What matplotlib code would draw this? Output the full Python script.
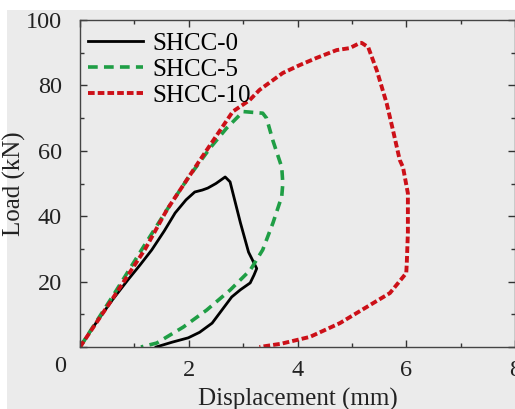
import numpy as np
import matplotlib
matplotlib.use("Agg")
import matplotlib.pyplot as plt
from matplotlib.patches import Rectangle
from matplotlib.ticker import MultipleLocator

plt.rcParams['font.family'] = ['Liberation Serif', 'DejaVu Serif']
plt.rcParams['lines.scale_dashes'] = False

# SHCC-0 (black solid)
x0 = [0, 0.3, 0.6, 0.88, 1.1, 1.32, 1.55, 1.75, 1.95, 2.11, 2.25, 2.35, 2.5, 2.67, 2.76,
      2.95, 3.1, 3.25, 3.2, 3.13, 2.95, 2.79, 2.61, 2.43, 2.2, 1.99, 1.7, 1.4]
y0 = [0, 7.5, 14.5, 20.5, 25, 29.7, 35.5, 41, 45, 47.4, 48, 48.6, 50, 52, 50.5,
      38, 29, 24, 22, 19.6, 17.5, 15.3, 11.3, 7.3, 4.5, 2.8, 1.5, 0]

# SHCC-5 (green dashed)
x5 = [0, 0.6, 1.2, 1.6, 2.0, 2.4, 2.7, 2.94, 3.0, 3.36, 3.43, 3.55, 3.71, 3.73, 3.71,
      3.55, 3.36, 3.13, 2.76, 2.33, 1.9, 1.41, 1.12]
y5 = [0, 15.5, 31.5, 42, 52, 61, 67, 71, 72, 71.5, 70, 63, 55, 50, 46,
      38, 29.7, 23.5, 17.4, 11.3, 6.1, 1.2, 0]

# SHCC-10 (red dashed)
x10 = [0, 0.6, 1.2, 1.6, 2.2, 2.81, 3.12, 3.3, 3.73, 4.04, 4.35, 4.72, 4.96, 5.15, 5.18,
       5.3, 5.46, 5.64, 5.76, 5.88, 5.94, 6.03, 6.03, 6.01, 6.0, 5.7, 5.27, 4.78, 4.23,
       3.7, 3.3]
y10 = [0, 14.8, 30, 42, 57, 72, 75.5, 78.6, 83.8, 86.2, 88.4, 90.8, 91.4, 93, 93,
       91.7, 84.5, 74.5, 66, 57.2, 55, 47, 35, 25.7, 22.6, 16.5, 12.2, 7.3, 3.1,
       1.0, 0]

fig = plt.figure(figsize=(5.15, 4.09), dpi=100, facecolor='white')
# grey backdrop of the scanned figure
fig.patches.append(Rectangle((7 / 515, 0), 1, 399 / 409, transform=fig.transFigure,
                             facecolor='#ebebeb', edgecolor='none', zorder=-10))

ax = fig.add_axes([80 / 515, 62 / 409, 435 / 515, 327 / 409])
ax.set_facecolor('#ebebeb')

ax.plot(x0, y0, color='black', lw=2.0, label='SHCC-0')
ax.plot(x5, y5, color='#1f9e45', lw=2.6, dashes=(7, 4.5), label='SHCC-5')
ax.plot(x10, y10, color='#cc1018', lw=2.8, dashes=(4.8, 2.2), label='SHCC-10')

ax.set_xlim(0, 8)
ax.set_ylim(0, 100)
ax.xaxis.set_major_locator(MultipleLocator(2))
ax.xaxis.set_minor_locator(MultipleLocator(1))
ax.yaxis.set_major_locator(MultipleLocator(20))
ax.yaxis.set_minor_locator(MultipleLocator(10))
ax.set_xticks([0, 2, 4, 6, 8], ['', '2', '4', '6', '8'])
ax.set_yticks([0, 20, 40, 60, 80, 100], ['', '20', '40', '60', '80', '100'])
ax.tick_params(which='both', direction='in', top=True, right=True, color='#333333',
               labelsize=17.5, labelcolor='#222222')
ax.tick_params(which='major', length=5, width=1)
ax.tick_params(which='minor', length=3, width=1)
ax.tick_params(axis='x', pad=9)
ax.tick_params(axis='y', pad=13)
for s in ax.spines.values():
    s.set_color('#444444')
    s.set_linewidth(1)

ax.text(-20 / 435, -20 / 327, '0', transform=ax.transAxes, fontsize=17.5,
        color='#222222', ha='center', va='center')

ax.set_xlabel('Displacement (mm)', fontsize=18, color='#222222', labelpad=5)
ax.set_ylabel('Load (kN)', fontsize=18, color='#222222')
ax.yaxis.set_label_coords(-54 / 435, 0.5)

ax.legend(loc='upper left', bbox_to_anchor=(8 / 435, 1 - 12 / 327), frameon=False,
          fontsize=18, handlelength=2.2, handletextpad=0.36, labelspacing=0.15,
          borderaxespad=0, borderpad=0)

fig.savefig('out.png', dpi=100, facecolor='white')
